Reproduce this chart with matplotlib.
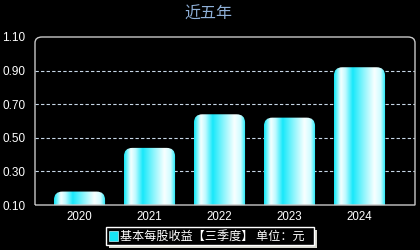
import numpy as np
import matplotlib
matplotlib.use("Agg")
import matplotlib.pyplot as plt
from matplotlib.patches import Rectangle, PathPatch
from matplotlib.path import Path
from matplotlib.colors import LinearSegmentedColormap

plt.rcParams['font.family'] = ['Liberation Sans', 'Noto Sans CJK SC', 'DejaVu Sans']

years = ['2020', '2021', '2022', '2023', '2024']
eps = [0.18, 0.44, 0.64, 0.62, 0.92]
yticks = [0.10, 0.30, 0.50, 0.70, 0.90, 1.10]
title = '近五年'
legend_label = '基本每股收益【三季度】 单位：元'

W, H = 420, 250
fig = plt.figure(figsize=(W/100, H/100), dpi=100, facecolor='black')
ax = fig.add_axes([35/W, 1-205/H, 380/W, 168/H], facecolor='black')

x = np.arange(len(years))
ax.set_xlim(-0.636, 4.793)
ax.set_ylim(0.10, 1.10)

for s in ax.spines.values():
    s.set_visible(False)

# gridlines
for t in yticks[1:-1]:
    ax.axhline(t, color='#c8d8e8', lw=0.8, ls=(0, (3, 2)), zorder=1)

# bars with gradient
cmap = LinearSegmentedColormap.from_list('bar', [
    (0.0, '#10e8f8'), (0.13, '#f4ffff'), (0.22, '#c0faff'), (0.36, '#18e8fa'),
    (0.55, '#80f4fc'), (0.78, '#f8ffff'), (0.90, '#d0fcff'), (1.0, '#10e8f8')])
grad = np.linspace(0, 1, 200).reshape(1, -1)
bw = 0.73
bars = ax.bar(x, [v - 0.10 for v in eps], bottom=0.10, width=bw, color='none', zorder=2)
for b in bars:
    x0, y0 = b.get_x(), b.get_y()
    w, h = b.get_width(), b.get_height()
    rx = 0.12
    ry = 0.05
    verts = [(x0, y0), (x0, y0 + h - ry), (x0, y0 + h), (x0 + rx, y0 + h),
             (x0 + w - rx, y0 + h), (x0 + w, y0 + h), (x0 + w, y0 + h - ry),
             (x0 + w, y0), (x0, y0)]
    codes = [Path.MOVETO, Path.LINETO, Path.CURVE3, Path.CURVE3, Path.LINETO,
             Path.CURVE3, Path.CURVE3, Path.LINETO, Path.CLOSEPOLY]
    clip = PathPatch(Path(verts, codes), transform=ax.transData, facecolor='none', edgecolor='none')
    ax.add_patch(clip)
    im = ax.imshow(grad, cmap=cmap, extent=[x0, x0 + w, y0, y0 + h], aspect='auto', zorder=2,
                   interpolation='bilinear')
    im.set_clip_path(clip)

# frame with rounded top corners
rx, ry = 0.10, 0.035
x0, x1 = -0.636, 4.793
fverts = [(x0, 0.10), (x0, 1.10 - ry), (x0, 1.10), (x0 + rx, 1.10),
          (x1 - rx, 1.10), (x1, 1.10), (x1, 1.10 - ry), (x1, 0.10), (x0, 0.10)]
fcodes = [Path.MOVETO, Path.LINETO, Path.CURVE3, Path.CURVE3, Path.LINETO,
          Path.CURVE3, Path.CURVE3, Path.LINETO, Path.LINETO]
frame = PathPatch(Path(fverts, fcodes), facecolor='none', edgecolor='#c8c8c8', lw=1.0,
                  zorder=3, clip_on=False)
ax.add_patch(frame)

ax.set_yticks(yticks)
ax.set_yticklabels([f'{t:.2f}' for t in yticks], color='white', fontsize=8.5)
ax.set_xticks(x)
ax.set_xticklabels(years, color='white', fontsize=8.3)
ax.tick_params(length=0, pad=4)
ax.tick_params(axis='y', pad=7)

fig.text(208/W, 1-14/H, title, color='#8fb0d8', fontsize=11.5, ha='center', va='center',
         family=['Noto Sans CJK SC', 'DejaVu Sans'])

# legend
lx0, lx1, ly0, ly1 = 106, 314, 227, 245
fig.patches.append(Rectangle(((lx0 + 3)/W, 1-(ly1 + 3)/H), (lx1 - lx0)/W, (ly1 - ly0)/H,
                             transform=fig.transFigure, facecolor='#d8d8d0', edgecolor='none', zorder=1))
fig.patches.append(Rectangle((lx0/W, 1-ly1/H), (lx1 - lx0)/W, (ly1 - ly0)/H,
                             transform=fig.transFigure, facecolor='black', edgecolor='white', lw=1.0, zorder=2))
fig.patches.append(Rectangle((109/W, 1-241/H), 9/W, 10/H, transform=fig.transFigure,
                             facecolor='#18e4f4', edgecolor='#c0f8ff', lw=0.5, zorder=3))
fig.text(120/W, 1-236/H, legend_label, color='white', fontsize=8.7, ha='left', va='center',
         family=['Noto Sans CJK SC', 'DejaVu Sans'], zorder=4)

fig.savefig('out.png', dpi=100, facecolor='black')
